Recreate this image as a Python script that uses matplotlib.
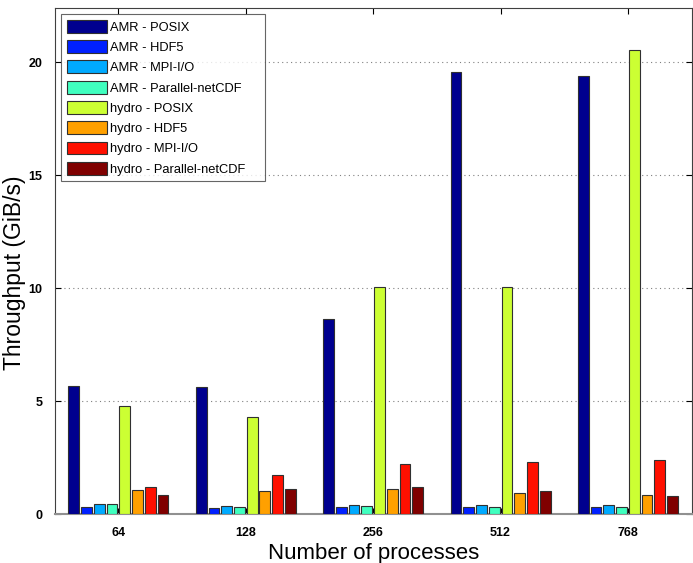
import matplotlib
matplotlib.use("Agg")
import matplotlib.pyplot as plt
import numpy as np

plt.rcParams['font.family'] = ['Liberation Sans', 'DejaVu Sans']

procs = ['64', '128', '256', '512', '768']
series = ['AMR - POSIX', 'AMR - HDF5', 'AMR - MPI-I/O', 'AMR - Parallel-netCDF',
          'hydro - POSIX', 'hydro - HDF5', 'hydro - MPI-I/O', 'hydro - Parallel-netCDF']

amr_posix = [5.66, 5.60, 8.61, 19.55, 19.39]
amr_hdf5 = [0.32, 0.26, 0.29, 0.29, 0.29]
amr_mpiio = [0.43, 0.35, 0.38, 0.38, 0.38]
amr_pnetcdf = [0.43, 0.32, 0.34, 0.32, 0.32]
hydro_posix = [4.78, 4.28, 10.03, 10.03, 20.52]
hydro_hdf5 = [1.06, 1.01, 1.09, 0.91, 0.82]
hydro_mpiio = [1.19, 1.71, 2.23, 2.29, 2.41]
hydro_pnetcdf = [0.83, 1.12, 1.18, 1.01, 0.79]

values = [amr_posix, amr_hdf5, amr_mpiio, amr_pnetcdf,
          hydro_posix, hydro_hdf5, hydro_mpiio, hydro_pnetcdf]
colors = ['#00008F', '#0020FF', '#00AAFF', '#40FFBF',
          '#CCFF33', '#FFA000', '#FF1000', '#800000']

fig = plt.figure(figsize=(6.93, 5.63), dpi=100)
ax = fig.add_axes([0.079, 0.087, 0.919, 0.899])

x = np.arange(1, len(procs) + 1)
pitch = 0.1
width = 0.085
for i, (vals, c, name) in enumerate(zip(values, colors, series)):
    off = (i - 3.5) * pitch
    ax.bar(x + off, vals, width, color=c, edgecolor='#303030', linewidth=0.8,
           label=name, zorder=3)

ax.set_xlim(0.5, 5.5)
ax.set_ylim(0, 22.4)
ax.set_xticks(x)
ax.set_xticklabels(procs)
ax.set_yticks([0, 5, 10, 15, 20])
ax.tick_params(direction='in', top=True, right=True, labelsize=9, length=4.5)
ax.tick_params(axis='y', pad=9)
ax.tick_params(axis='x', pad=9)
for lab in ax.get_xticklabels() + ax.get_yticklabels():
    lab.set_fontweight('bold')
ax.yaxis.grid(True, linestyle=(0, (1, 3)), color='#808080', linewidth=0.8, zorder=0)
for s in ax.spines.values():
    s.set_color('#404040')
    s.set_linewidth(0.8)
ax.spines['bottom'].set_color('#909090')
ax.spines['bottom'].set_linewidth(1.5)

ax.set_xlabel('Number of processes', fontsize=16, labelpad=3)
ax.set_ylabel('Throughput (GiB/s)', fontsize=16.5)
ax.yaxis.set_label_coords(-0.045, 0.477)

# legend box stretched to the reference width
leg = ax.legend(loc='upper left', fontsize=9.3, frameon=True, fancybox=False,
                edgecolor='#404040', handlelength=3.1, handleheight=1.16,
                handletextpad=0.23, labelspacing=0.5, borderpad=0.44,
                borderaxespad=0, mode='expand',
                bbox_to_anchor=(0.0105, 0.9875, 0.319, 0.0))
leg.get_frame().set_linewidth(0.8)

fig.savefig('out.png', dpi=100)
